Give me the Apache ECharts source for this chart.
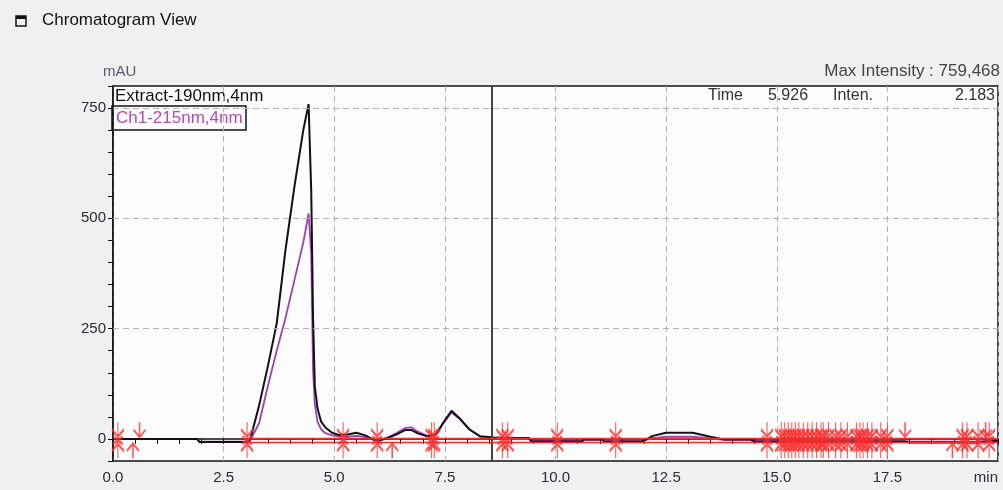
<!DOCTYPE html>
<html>
<head>
<meta charset="utf-8">
<script src="https://cdn.jsdelivr.net/npm/echarts@6/dist/echarts.min.js"></script>
<style>
html, body { margin: 0; padding: 0; background: #f0f0f0; }
#chart { width: 1003px; height: 490px; }
</style>
</head>
<body>
<div id="chart"></div>
<script>
// retention time (min)
const times = [0, 0.5, 1.0, 1.5, 1.9, 1.95, 2.5, 3.0, 3.1, 3.3, 3.5, 3.7, 3.9, 4.1, 4.3, 4.42, 4.48, 4.52, 4.56, 4.62, 4.7, 4.8, 4.95, 5.1, 5.3, 5.5, 5.7, 5.9, 6.0, 6.2, 6.4, 6.6, 6.75, 6.9, 7.1, 7.3, 7.45, 7.65, 7.85, 8.05, 8.3, 8.6, 9.0, 9.4, 9.45, 10.6, 10.65, 11.05, 11.1, 11.95, 12.2, 12.5, 13.1, 13.5, 13.8, 14.4, 14.5, 17.9, 18.0, 19.5, 20];
// Extract-190nm,4nm (mAU)
const extract190 = [0, 0, 0, 0, 0, -7, -7, -7, -2, 75, 165, 262, 430, 572, 700, 759, 560, 280, 120, 70, 40, 26, 14, 9, 10, 14, 8, -2, -4, 2, 10, 20, 20, 12, 6, 10, 35, 64, 45, 22, 6, 3, 2, 2, -6, -6, -1, -1, -6, -6, 7, 14, 14, 5, -1, -1, -6, -6, -8, -8, -4];
// Ch1-215nm,4nm (mAU)
const ch1_215 = [0, 0, 0, 0, 0, -6, -6, -6, -3, 35, 120, 200, 275, 360, 445, 511, 420, 160, 80, 40, 22, 13, 8, 6, 5, 7, 4, -2, -3, 3, 13, 25, 26, 16, 7, 10, 33, 60, 44, 22, 5, 2, 1, 0, -4, -4, -2, -2, -5, -5, 2, 5, 5, 1, -2, -2, -5, -5, -6, -6, -3];

const yLabelValues = [0, 250, 500, 750];
const cursorTime = 8.57;
const baselineTimes = [3.03, 20];
const baselineUpper = [1, 1];
const baselineLower = [-8, -8];
const markLevel = -3;
const peakMarksBoth = [0.11, 3.03, 5.2, 5.97, 7.2, 7.26, 8.8, 8.92, 10.04, 11.36, 14.78, 15.1, 15.18, 15.26, 15.34, 15.42, 15.5, 15.6, 15.7, 15.8, 15.9, 16.0, 16.05, 16.17, 16.33, 16.45, 16.6, 16.8, 16.88, 16.95, 17.05, 17.15, 17.35, 17.5, 19.2, 19.3, 19.55, 19.8];
const peakMarksDown = [0.6, 17.9, 19.72];
const peakMarksUp = [0.45, 6.31, 18.97];

const red = '#ff2a2a';
const font = 'Liberation Sans, Arial, sans-serif';

const chart = echarts.init(document.getElementById('chart'));

const pair = (xs, ys) => xs.map((x, i) => [x, ys[i]]);
const marks = arr => arr.map(t => [t, markLevel]);

const symBoth = 'path://M5 0 L5 30 M0 6 L5 12 L10 6 M0 24 L5 18 L10 24 M1 12 L9 18 M1 18 L9 12';
const symDown = 'path://M5 0 L5 13 M0 6 L5 12 L10 6';
const symUp = 'path://M5 0 L5 13 M0 7 L5 1 L10 7';

const markSeries = (data, symbol, size, offset) => ({
  type: 'scatter',
  data: marks(data),
  symbol: symbol,
  symbolSize: size,
  symbolOffset: offset,
  silent: true,
  z: 6,
  itemStyle: { color: 'rgba(0,0,0,0)', borderColor: red, borderWidth: 1.8 }
});

const option = {
  backgroundColor: '#f0f0f0',
  animation: false,
  grid: {
    left: 113, right: 5, top: 86, bottom: 29,
    show: true,
    backgroundColor: '#fcfcfc',
    borderColor: '#111',
    borderWidth: 1.5
  },
  xAxis: {
    type: 'value',
    min: 0, max: 20, interval: 2.5,
    axisLine: { lineStyle: { color: '#111', width: 1.5 } },
    axisTick: { length: 5, lineStyle: { color: '#111' } },
    minorTick: { show: true, splitNumber: 5, length: 5, lineStyle: { color: '#111' } },
    splitLine: { show: true, lineStyle: { color: '#b4b4b4', type: [6, 4], width: 1 } },
    axisLabel: {
      color: '#2a2a3a', fontFamily: font, fontSize: 15, margin: 9,
      alignMaxLabel: 'right',
      formatter: v => v === 20 ? 'min' : v.toFixed(1)
    }
  },
  yAxis: {
    type: 'value',
    min: -50, max: 800, interval: 50,
    axisLine: { show: true, lineStyle: { color: '#111', width: 1.5 } },
    axisTick: { show: true, length: 5, lineStyle: { color: '#111' } },
    splitLine: { show: false },
    axisLabel: {
      color: '#2a2a3a', fontFamily: font, fontSize: 15, margin: 7,
      formatter: v => yLabelValues.indexOf(v) >= 0 ? String(v) : ''
    }
  },
  series: [
    {
      // horizontal grid + cursor
      type: 'line',
      data: [],
      z: 1,
      markLine: {
        silent: true,
        symbol: 'none',
        label: { show: false },
        data: yLabelValues.filter(v => v > 0).map(v => ({
          yAxis: v, lineStyle: { color: '#b4b4b4', type: [6, 4], width: 1 }
        })).concat([{ xAxis: cursorTime, lineStyle: { color: '#444', type: 'solid', width: 2 } }])
      }
    },
    {
      name: 'Ch1-215nm,4nm',
      type: 'line',
      data: pair(times, ch1_215),
      showSymbol: false,
      z: 3,
      lineStyle: { color: '#a040b4', width: 1.8 }
    },
    {
      name: 'Extract-190nm,4nm',
      type: 'line',
      data: pair(times, extract190),
      showSymbol: false,
      z: 4,
      lineStyle: { color: '#111', width: 2 }
    },
    {
      type: 'line',
      data: pair(baselineTimes, baselineUpper),
      showSymbol: false, silent: true, z: 5,
      lineStyle: { color: red, width: 1.4 }
    },
    {
      type: 'line',
      data: pair(baselineTimes, baselineLower),
      showSymbol: false, silent: true, z: 5,
      lineStyle: { color: red, width: 1.4 }
    },
    markSeries(peakMarksBoth, symBoth, [12, 36], [0, 0]),
    markSeries(peakMarksDown, symDown, [12, 16], [0, -10]),
    markSeries(peakMarksUp, symUp, [12, 16], [0, 10])
  ],
  graphic: [
    { type: 'rect', shape: { x: 16, y: 16, width: 10, height: 10 },
      style: { fill: 'none', stroke: '#111', lineWidth: 1.5 } },
    { type: 'rect', shape: { x: 16, y: 16, width: 10, height: 3 },
      style: { fill: '#111' } },
    { type: 'text', left: 42, top: 12,
      style: { text: 'Chromatogram View', fill: '#111', font: '17px ' + font } },
    { type: 'text', left: 103, top: 64,
      style: { text: 'mAU', fill: '#555a70', font: '15px ' + font } },
    { type: 'text', right: 3, top: 63,
      style: { text: 'Max Intensity : 759,468', fill: '#444', font: '17px ' + font } },
    { type: 'text', left: 115, top: 88,
      style: { text: 'Extract-190nm,4nm', fill: '#111', font: '17px ' + font } },
    { type: 'rect', shape: { x: 112, y: 106, width: 134, height: 24 },
      style: { fill: 'rgba(0,0,0,0)', stroke: '#111', lineWidth: 1.5 } },
    { type: 'text', left: 116, top: 110,
      style: { text: 'Ch1-215nm,4nm', fill: '#b44cb4', font: '17px ' + font } },
    { type: 'text', left: 708, top: 88,
      style: { text: 'Time', fill: '#333', font: '16px ' + font } },
    { type: 'text', left: 768, top: 88,
      style: { text: '5.926', fill: '#333', font: '16px ' + font } },
    { type: 'text', left: 833, top: 88,
      style: { text: 'Inten.', fill: '#333', font: '16px ' + font } },
    { type: 'text', right: 8, top: 88,
      style: { text: '2.183', fill: '#333', font: '16px ' + font } }
  ]
};

chart.setOption(option);
</script>
</body>
</html>
